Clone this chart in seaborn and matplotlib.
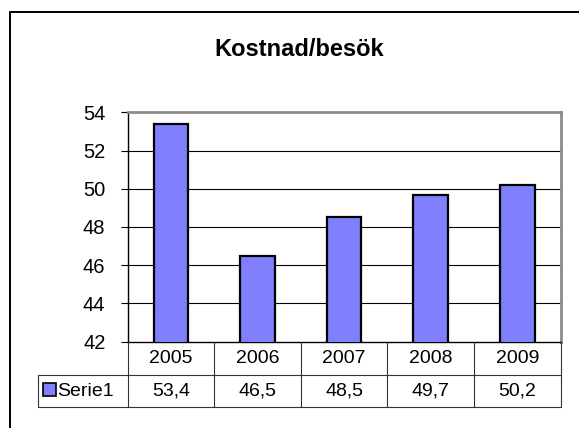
import matplotlib
matplotlib.use("Agg")
import matplotlib.pyplot as plt
import matplotlib.transforms as mtransforms
from matplotlib.patches import Rectangle
from matplotlib.lines import Line2D
import seaborn as sns
import pandas as pd

# ---- data ----
years = ["2005", "2006", "2007", "2008", "2009"]
values = [53.4, 46.5, 48.5, 49.7, 50.2]
series_name = "Serie1"
title = "Kostnad/besök"
yticks = [42, 44, 46, 48, 50, 52, 54]

sns.set_theme(style="white")
plt.rcParams["font.family"] = ["Liberation Sans", "DejaVu Sans"]

W, H = 579, 428
fig = plt.figure(figsize=(W / 100, H / 100), dpi=100)
fig.patch.set_facecolor("white")

def fx(x):
    return x / W

def fy(y):
    return 1 - y / H

left, right, top, bottom = 127.7, 560.5, 112.3, 341.7
ax = fig.add_axes([fx(left), fy(bottom), fx(right) - fx(left), fy(top) - fy(bottom)])

df = pd.DataFrame({"year": years, "value": values})
bar_color = "#8080FF"
sns.barplot(data=df, x="year", y="value", color=bar_color, edgecolor="black",
            linewidth=1.6, width=0.4, saturation=1, ax=ax, zorder=3)

ax.set_ylim(yticks[0], yticks[-1])
ax.set_xlim(-0.5, len(years) - 0.5)
ax.set_yticks(yticks)
ax.set_yticklabels([str(t) for t in yticks], fontsize=14.5, color="black")
ax.tick_params(axis="y", which="major", direction="out", length=5, width=0.8,
               color="black", pad=11, left=True)
ax.tick_params(axis="x", bottom=False, labelbottom=False)
ax.set_xlabel("")
ax.set_ylabel("")
for t in yticks[1:-1]:
    ax.axhline(t, color="black", linewidth=0.8, zorder=1)

ax.spines["left"].set_color("black")
ax.spines["left"].set_linewidth(1.0)
ax.spines["bottom"].set_color("black")
ax.spines["bottom"].set_linewidth(1.0)
ax.spines["top"].set_color("#8c8c8c")
ax.spines["top"].set_linewidth(2.0)
ax.spines["right"].set_color("#8c8c8c")
ax.spines["right"].set_linewidth(2.0)
for s in ax.spines.values():
    s.set_visible(True)

# ---- title ----
fig.text(fx(299), fy(50), title, ha="center", va="center", fontsize=17,
         fontweight="bold", color="black")

# ---- data table ----
trans = mtransforms.blended_transform_factory(ax.transData, fig.transFigure)
row1_top, row_mid, row2_bot = bottom, 374.7, 407.0
line_kw = dict(color="#333333", linewidth=0.8)
n = len(years)
for i in range(n + 1):
    xb = i - 0.5
    fig.add_artist(Line2D([xb, xb], [fy(row1_top), fy(row2_bot)], transform=trans, **line_kw))
for yy in (row_mid, row2_bot):
    fig.add_artist(Line2D([fx(38.3), fx(right)], [fy(yy), fy(yy)],
                          transform=fig.transFigure, **line_kw))
fig.add_artist(Line2D([fx(38.3), fx(38.3)], [fy(row_mid), fy(row2_bot)],
                      transform=fig.transFigure, **line_kw))

for i, (yr, v) in enumerate(zip(years, values)):
    fig.text(i, fy((row1_top + row_mid) / 2), yr, transform=trans, ha="center",
             va="center", fontsize=14, color="black")
    fig.text(i, fy((row_mid + row2_bot) / 2), f"{v:.1f}".replace(".", ","),
             transform=trans, ha="center", va="center", fontsize=14, color="black")

# legend key in table
fig.add_artist(Rectangle((fx(43), fy(396)), fx(12.5), fy(383) - fy(396),
                         transform=fig.transFigure, facecolor=bar_color,
                         edgecolor="black", linewidth=1.2))
fig.text(fx(57), fy(391), series_name, ha="left", va="center", fontsize=14, color="black")

# ---- outer chart frame (extends beyond right/bottom) ----
fig.add_artist(Rectangle((fx(10.3), fy(440)), fx(600), fy(12.3) - fy(440),
                         transform=fig.transFigure, facecolor="none",
                         edgecolor="black", linewidth=1.4))

fig.savefig("out.png", dpi=100)
